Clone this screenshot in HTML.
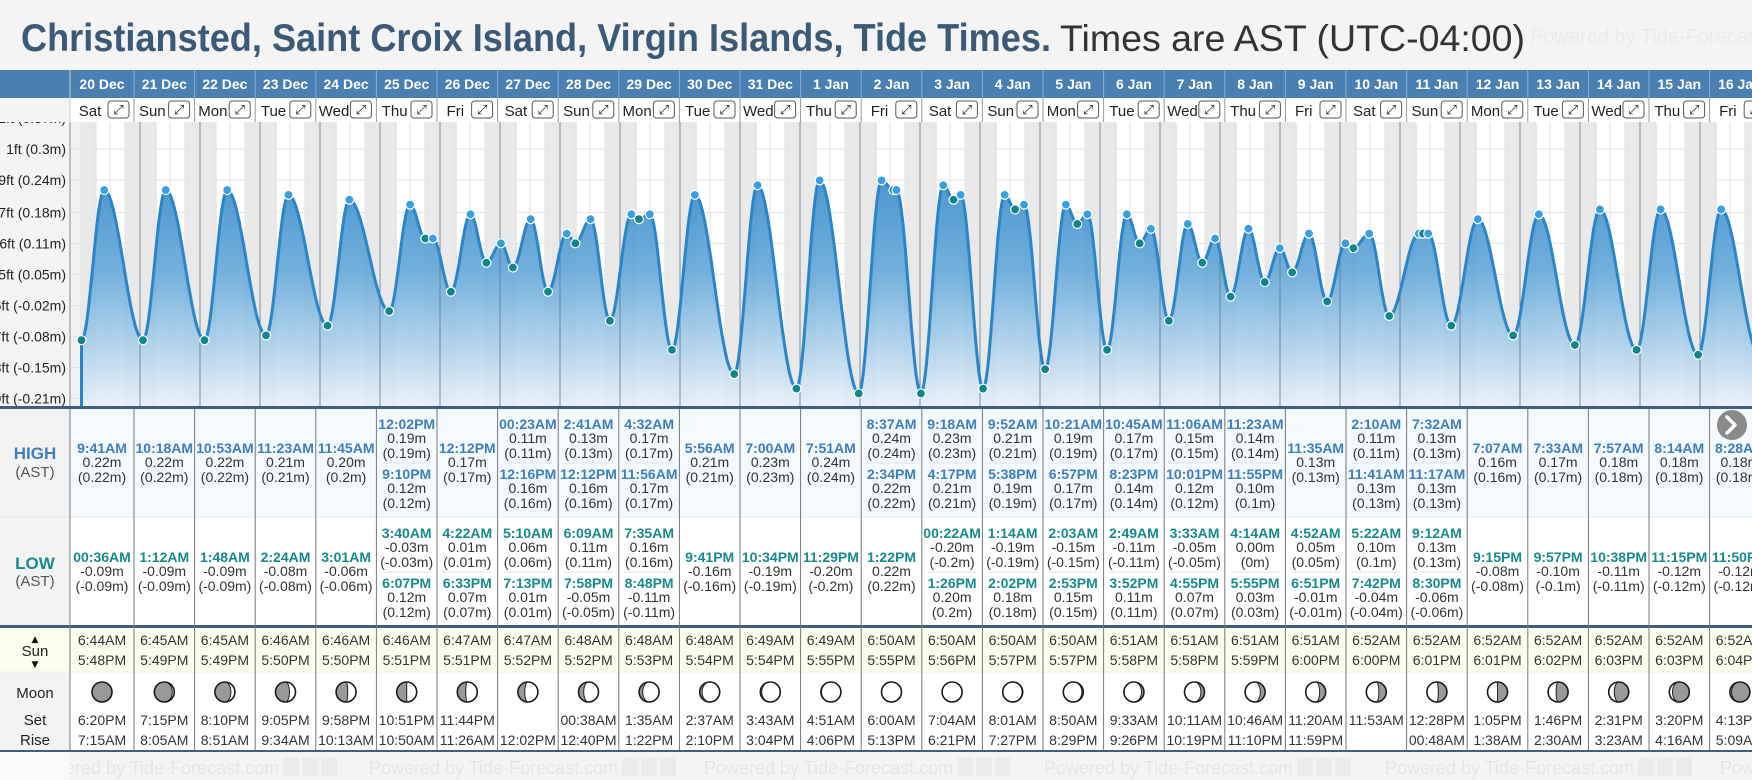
<!DOCTYPE html>
<html><head><meta charset="utf-8"><style>
html,body{margin:0;padding:0;background:#f4f4f4;width:1752px;height:780px;overflow:hidden}
svg{display:block;font-family:"Liberation Sans",sans-serif}
</style></head><body>
<svg id="root" width="1752" height="780" viewBox="0 0 1752 780">
<defs>
<linearGradient id="tideFill" gradientUnits="userSpaceOnUse" x1="0" y1="160" x2="0" y2="405">
<stop offset="0" stop-color="#2a82c5"/><stop offset="0.45" stop-color="#5fa5d8"/><stop offset="1" stop-color="#e6f0f8"/>
</linearGradient>
<clipPath id="chartClip"><rect x="70" y="122" width="1682" height="284"/></clipPath>
<clipPath id="axisClip"><rect x="0" y="122" width="68" height="284"/></clipPath>
</defs>
<rect x="0" y="0" width="1752" height="780" fill="#f4f4f4"/>
<text x="1530" y="43" font-size="20" fill="#ebebeb">Powered by Tide-Forecast.com</text>
<text x="21" y="51" font-size="39" font-weight="bold" fill="#3a5a78" textLength="1030" lengthAdjust="spacingAndGlyphs">Christiansted, Saint Croix Island, Virgin Islands, Tide Times.</text>
<text x="1060" y="51" font-size="37" fill="#333" textLength="465" lengthAdjust="spacingAndGlyphs">Times are AST (UTC-04:00)</text>
<g id="layer"></g>
</svg>
<script>
const dates=['20 Dec','21 Dec','22 Dec','23 Dec','24 Dec','25 Dec','26 Dec','27 Dec','28 Dec','29 Dec','30 Dec','31 Dec','1 Jan','2 Jan','3 Jan','4 Jan','5 Jan','6 Jan','7 Jan','8 Jan','9 Jan','10 Jan','11 Jan','12 Jan','13 Jan','14 Jan','15 Jan','16 Jan'];
const weekdays=['Sat','Sun','Mon','Tue','Wed','Thu','Fri'];
const highTimes=[['9:41AM'],['10:18AM'],['10:53AM'],['11:23AM'],['11:45AM'],['12:02PM','9:10PM'],['12:12PM'],['00:23AM','12:16PM'],['2:41AM','12:12PM'],['4:32AM','11:56AM'],['5:56AM'],['7:00AM'],['7:51AM'],['8:37AM','2:34PM'],['9:18AM','4:17PM'],['9:52AM','5:38PM'],['10:21AM','6:57PM'],['10:45AM','8:23PM'],['11:06AM','10:01PM'],['11:23AM','11:55PM'],['11:35AM'],['2:10AM','11:41AM'],['7:32AM','11:17AM'],['7:07AM'],['7:33AM'],['7:57AM'],['8:14AM'],['8:28AM']];
const highHeights=[[0.22],[0.22],[0.22],[0.21],[0.20],[0.19,0.12],[0.17],[0.11,0.16],[0.13,0.16],[0.17,0.17],[0.21],[0.23],[0.24],[0.24,0.22],[0.23,0.21],[0.21,0.19],[0.19,0.17],[0.17,0.14],[0.15,0.12],[0.14,0.10],[0.13],[0.11,0.13],[0.13,0.13],[0.16],[0.17],[0.18],[0.18],[0.18]];
const lowTimes=[['00:36AM'],['1:12AM'],['1:48AM'],['2:24AM'],['3:01AM'],['3:40AM','6:07PM'],['4:22AM','6:33PM'],['5:10AM','7:13PM'],['6:09AM','7:58PM'],['7:35AM','8:48PM'],['9:41PM'],['10:34PM'],['11:29PM'],['1:22PM'],['00:22AM','1:26PM'],['1:14AM','2:02PM'],['2:03AM','2:53PM'],['2:49AM','3:52PM'],['3:33AM','4:55PM'],['4:14AM','5:55PM'],['4:52AM','6:51PM'],['5:22AM','7:42PM'],['9:12AM','8:30PM'],['9:15PM'],['9:57PM'],['10:38PM'],['11:15PM'],['11:50PM']];
const lowHeights=[[-0.09],[-0.09],[-0.09],[-0.08],[-0.06],[-0.03,0.12],[0.01,0.07],[0.06,0.01],[0.11,-0.05],[0.16,-0.11],[-0.16],[-0.19],[-0.20],[0.22],[-0.20,0.20],[-0.19,0.18],[-0.15,0.15],[-0.11,0.11],[-0.05,0.07],[0.00,0.03],[0.05,-0.01],[0.10,-0.04],[0.13,-0.06],[-0.08],[-0.10],[-0.11],[-0.12],[-0.12]];
const sunrise=['6:44AM','6:45AM','6:45AM','6:46AM','6:46AM','6:46AM','6:47AM','6:47AM','6:48AM','6:48AM','6:48AM','6:49AM','6:49AM','6:50AM','6:50AM','6:50AM','6:50AM','6:51AM','6:51AM','6:51AM','6:51AM','6:52AM','6:52AM','6:52AM','6:52AM','6:52AM','6:52AM','6:52AM'];
const sunset=['5:48PM','5:49PM','5:49PM','5:50PM','5:50PM','5:51PM','5:51PM','5:52PM','5:52PM','5:53PM','5:54PM','5:54PM','5:55PM','5:55PM','5:56PM','5:57PM','5:57PM','5:58PM','5:58PM','5:59PM','6:00PM','6:00PM','6:01PM','6:01PM','6:02PM','6:03PM','6:03PM','6:04PM'];
const moonLine1=['6:20PM','7:15PM','8:10PM','9:05PM','9:58PM','10:51PM','11:44PM','','00:38AM','1:35AM','2:37AM','3:43AM','4:51AM','6:00AM','7:04AM','8:01AM','8:50AM','9:33AM','10:11AM','10:46AM','11:20AM','11:53AM','12:28PM','1:05PM','1:46PM','2:31PM','3:20PM','4:13PM'];
const moonLine2=['7:15AM','8:05AM','8:51AM','9:34AM','10:13AM','10:50AM','11:26AM','12:02PM','12:40PM','1:22PM','2:10PM','3:04PM','4:06PM','5:13PM','6:21PM','7:27PM','8:29PM','9:26PM','10:19PM','11:10PM','11:59PM','','00:48AM','1:38AM','2:30AM','3:23AM','4:16AM','5:09AM'];
const moonIllum=[0.01,0.10,0.20,0.30,0.42,0.50,0.58,0.66,0.74,0.82,0.88,0.93,0.97,1.0,1.0,-0.97,-0.93,-0.88,-0.82,-0.76,-0.70,-0.63,-0.57,-0.50,-0.40,-0.28,-0.16,-0.08];
const tickFt=[1.21,1,0.79,0.57,0.36,0.15,-0.06,-0.27,-0.48,-0.69];
const tickLabels=['1.21ft (0.37m)','1ft (0.3m)','0.79ft (0.24m)','0.57ft (0.18m)','0.36ft (0.11m)','0.15ft (0.05m)','-0.06ft (-0.02m)','-0.27ft (-0.08m)','-0.48ft (-0.15m)','-0.69ft (-0.21m)'];

const NS='http://www.w3.org/2000/svg';
const L=document.getElementById('layer');
function mk(tag,attrs,parent){const e=document.createElementNS(NS,tag);for(const k in attrs)e.setAttribute(k,attrs[k]);(parent||L).appendChild(e);return e;}
function tx(x,y,s,attrs,parent){const e=mk('text',Object.assign({x:x,y:y},attrs),parent);e.textContent=s;return e;}
function hrs(t){const m=t.match(/(\d+):(\d+)(AM|PM)/);let h=+m[1];if(m[3]==='PM'&&h<12)h+=12;if(m[3]==='AM'&&h===12)h=0;return h+(+m[2])/60;}
function xOf(day,h){return 80+(day+h/24)*60;}
function yFt(ft){return 149-(ft-1)*147.6;}
function yOf(m){return yFt(m/0.3048);}
function colX(i){return i===0?70:134+(i-1)*60.6;}
const N=dates.length;

let e;
e=mk('rect',{x:0,y:70,width:1752,height:28,fill:'#4a7fb1'});


e=mk('rect',{x:70,y:98,width:1682,height:24,fill:'#fff'});


for(let i=0;i<N;i++){
  const x0=colX(i),x1=colX(i+1),cx=(x0+x1)/2;
  e=mk('line',{x1:x1,y1:70,x2:x1,y2:98,stroke:'#86aed3','stroke-width':1});
  
  
  e=mk('line',{x1:x0,y1:98,x2:x0,y2:122,stroke:'#999','stroke-width':1});
  
  
  e=tx(cx,89,dates[i],{'font-size':14,'font-weight':'bold',fill:'#fff','text-anchor':'middle'});
  
  
  e=tx(x0+(x1-x0-24)/2,116,weekdays[i%7],{'font-size':15,fill:'#222','text-anchor':'middle'});
  
  
  const g=mk('g',{});
  
  
  mk('rect',{x:x1-26,y:101,width:21,height:17,rx:3,fill:'#fff',stroke:'#555','stroke-width':1},g);
  tx(x1-15.5,114,'⤢',{'font-size':13,fill:'#222','text-anchor':'middle','font-family':'DejaVu Sans'},g);
}
e=mk('line',{x1:70,y1:70,x2:70,y2:122,stroke:'#ccc','stroke-width':1});



const C=mk('g',{'clip-path':'url(#chartClip)'});


e=mk('rect',{x:70,y:122,width:1682,height:284,fill:'#f2f2f2'},C);


for(let i=0;i<N;i++){
  const sr=xOf(i,hrs(sunrise[i])),ss=xOf(i,hrs(sunset[i]));
  e=mk('rect',{x:xOf(i,0),y:122,width:60,height:284,fill:'#e9e9e9'},C);
  
  
  e=mk('rect',{x:sr,y:122,width:ss-sr,height:284,fill:'#fff'},C);
  
  
  for(let q=1;q<4;q++){
    e=mk('line',{x1:xOf(i,q*6),y1:122,x2:xOf(i,q*6),y2:406,stroke:'#e2e2e2','stroke-width':1},C);
    
    
  }
}
for(let k=0;k<tickFt.length;k++){
  e=mk('line',{x1:70,y1:yFt(tickFt[k]),x2:1752,y2:yFt(tickFt[k]),stroke:'#e6e6e6','stroke-width':1},C);
  
  
}
const ext=[];
for(let i=0;i<N;i++){
  highTimes[i].forEach((t,j)=>ext.push({t:i+hrs(t)/24,m:highHeights[i][j],hi:true}));
  lowTimes[i].forEach((t,j)=>ext.push({t:i+hrs(t)/24,m:lowHeights[i][j],hi:false}));
}
ext.sort((a,b)=>a.t-b.t);
let pts=[];
for(let k=0;k<ext.length-1;k++){
  const a=ext[k],b=ext[k+1];
  for(let s=0;s<16;s++){const f=s/16;const m=a.m+(b.m-a.m)*(1-Math.cos(Math.PI*f))/2;pts.push([80+(a.t+(b.t-a.t)*f)*60,yOf(m)]);}
}
const last=ext[ext.length-1];pts.push([80+last.t*60,yOf(last.m)]);
const line=pts.map((p,i)=>(i?'L':'M')+p[0].toFixed(1)+','+p[1].toFixed(1)).join('');
e=mk('path',{d:line+'L'+pts[pts.length-1][0].toFixed(1)+',406L'+pts[0][0].toFixed(1)+',406Z',fill:'url(#tideFill)','fill-opacity':0.88},C);


for(let i=1;i<N;i++){
  e=mk('line',{x1:xOf(i,0),y1:122,x2:xOf(i,0),y2:406,stroke:'#5d7690','stroke-width':1,'stroke-opacity':0.8},C);
  
  
}
e=mk('line',{x1:pts[0][0],y1:pts[0][1],x2:pts[0][0],y2:406,stroke:'#2a86c9','stroke-width':3},C);


e=mk('path',{d:line,fill:'none',stroke:'#2a86c9','stroke-width':3},C);


ext.forEach(p=>{
  e=mk('circle',{cx:80+p.t*60,cy:yOf(p.m),r:4.5,fill:p.hi?'#3a9fe0':'#11868a',stroke:'#fff','stroke-width':1.2},C);
  
  
});
e=mk('line',{x1:70,y1:122,x2:70,y2:406,stroke:'#888','stroke-width':1});


const A=mk('g',{'clip-path':'url(#axisClip)'});


for(let k=0;k<tickFt.length;k++){
  e=tx(66,yFt(tickFt[k])+5,tickLabels[k],{'font-size':14,fill:'#222','text-anchor':'end'},A);
  
  
}

e=mk('rect',{x:0,y:406,width:1752,height:3,fill:'#3d5f80'});


const rows=[[409,517,'#f4f9fe','high-row'],[517,626,'#fff','low-row'],[628,672,'#fdfdee','sun-row'],[672,751,'#fff','moon-row']];
rows.forEach(r=>{
  e=mk('rect',{x:70,y:r[0],width:1682,height:r[1]-r[0],fill:r[2]});
  
  
});
e=mk('rect',{x:0,y:409,width:69,height:217,fill:'#f3f3f3'});


e=mk('rect',{x:0,y:628,width:69,height:44,fill:'#fdfdee'});


e=mk('rect',{x:0,y:672,width:69,height:79,fill:'#f3f3f3'});


e=mk('line',{x1:0,y1:517,x2:1752,y2:517,stroke:'#e6e6e6','stroke-width':1});


e=mk('rect',{x:0,y:625,width:1752,height:3,fill:'#3d5f80'});


e=mk('line',{x1:0,y1:672,x2:1752,y2:672,stroke:'#eee','stroke-width':1});


e=mk('rect',{x:0,y:750,width:1752,height:2,fill:'#3d5f80'});


e=tx(35,459,'HIGH',{'font-size':17,'font-weight':'bold',fill:'#3d7ebf','text-anchor':'middle'});


e=tx(35,477,'(AST)',{'font-size':15,fill:'#555','text-anchor':'middle'});


e=tx(35,569,'LOW',{'font-size':17,'font-weight':'bold',fill:'#168a8c','text-anchor':'middle'});


e=tx(35,586,'(AST)',{'font-size':15,fill:'#555','text-anchor':'middle'});


e=tx(35,642,'▲',{'font-size':9,fill:'#111','text-anchor':'middle','font-family':'DejaVu Sans'});


e=tx(35,656,'Sun',{'font-size':15,fill:'#222','text-anchor':'middle'});


e=tx(35,667,'▼',{'font-size':9,fill:'#111','text-anchor':'middle','font-family':'DejaVu Sans'});


e=tx(35,698,'Moon',{'font-size':15,fill:'#222','text-anchor':'middle'});


e=tx(35,725,'Set',{'font-size':15,fill:'#222','text-anchor':'middle'});


e=tx(35,745,'Rise',{'font-size':15,fill:'#222','text-anchor':'middle'});



function entry(cx,cy,t,m,color,name){
  e=tx(cx,cy-9,t,{'font-size':14,'font-weight':'bold',fill:color,'text-anchor':'middle'});
  
  
  e=tx(cx,cy+5,m.toFixed(2)+'m',{'font-size':14,fill:'#333','text-anchor':'middle'});
  
  
  e=tx(cx,cy+20,'('+parseFloat(m.toFixed(2))+'m)',{'font-size':14,fill:'#333','text-anchor':'middle'});
  
  
}
for(let i=0;i<N;i++){
  const x0=colX(i),x1=colX(i+1),cx=(x0+x1)/2;
  e=mk('line',{x1:x0,y1:409,x2:x0,y2:750,stroke:'#777','stroke-width':1});
  
  
  const hc=highTimes[i].length===1?[462]:[438,488];
  highTimes[i].forEach((t,j)=>entry(cx,hc[j],t,highHeights[i][j],'#3d7ebf','high-tide'));
  if(hc.length>1){e=mk('line',{x1:x0+6,y1:463,x2:x1-6,y2:463,stroke:'#e3e3e3'});
    
    }
  const lc=lowTimes[i].length===1?[571]:[547,597];
  lowTimes[i].forEach((t,j)=>entry(cx,lc[j],t,lowHeights[i][j],'#168a8c','low-tide'));
  if(lc.length>1){e=mk('line',{x1:x0+6,y1:572,x2:x1-6,y2:572,stroke:'#e3e3e3'});
    
    }
  e=tx(cx,645,sunrise[i],{'font-size':14,fill:'#333','text-anchor':'middle'});
  
  
  e=tx(cx,665,sunset[i],{'font-size':14,fill:'#333','text-anchor':'middle'});
  
  
  const cy=692,r=10,f=Math.abs(moonIllum[i]),wax=moonIllum[i]>=0;
  const mg=mk('g',{});
  
  
  mk('circle',{cx:cx,cy:cy,r:r,fill:'#999'},mg);
  const rx=r*Math.abs(1-2*f);
  let d;
  if(wax) d=`M${cx},${cy-r}A${r},${r} 0 0 1 ${cx},${cy+r}A${rx},${r} 0 0 ${f>0.5?1:0} ${cx},${cy-r}Z`;
  else d=`M${cx},${cy-r}A${r},${r} 0 0 0 ${cx},${cy+r}A${rx},${r} 0 0 ${f>0.5?0:1} ${cx},${cy-r}Z`;
  mk('path',{d:d,fill:'#fff',stroke:'#222','stroke-width':1},mg);
  mk('circle',{cx:cx,cy:cy,r:r,fill:'none',stroke:'#1a1a1a','stroke-width':1.6},mg);
  e=tx(cx,725,moonLine1[i],{'font-size':14,fill:'#333','text-anchor':'middle'});
  
  
  e=tx(cx,745,moonLine2[i],{'font-size':14,fill:'#333','text-anchor':'middle'});
  
  
}
const nb=mk('g',{});


mk('circle',{cx:1732,cy:425,r:15,fill:'#8a8a8a'},nb);
mk('path',{d:'M1727,417L1735,425L1727,433',fill:'none',stroke:'#fff','stroke-width':3.5,'stroke-linecap':'round','stroke-linejoin':'round'},nb);
[30,369,704,1044,1385,1720].forEach(x=>{
  e=tx(x,774,'Powered by Tide-Forecast.com',{'font-size':18,fill:'#e6e6e6'});
  
  
  for(let q=0;q<3;q++){
    e=mk('rect',{x:x+253+q*19,y:758,width:16,height:18,fill:'#ebebeb'});
    
    
  }
});
e=mk('rect',{x:0,y:752,width:69,height:28,fill:'#f9f9f9'});


</script>
</body></html>
